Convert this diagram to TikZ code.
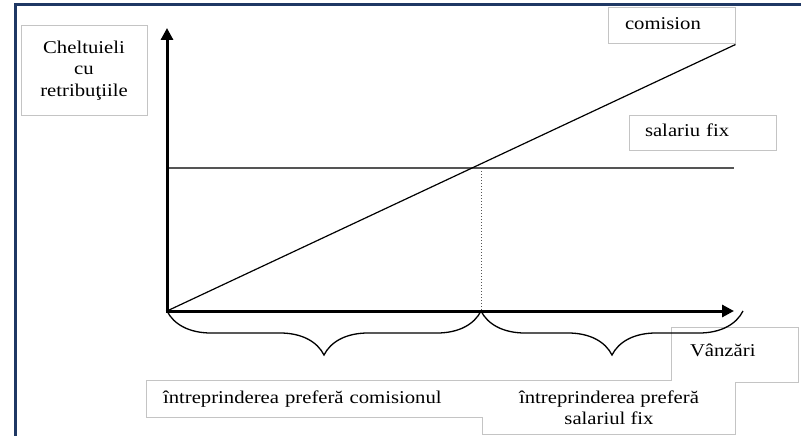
\documentclass[tikz,border=0pt]{standalone}
\usepackage{fontspec}
\setmainfont{Liberation Serif}[FakeStretch=1.15]
\usetikzlibrary{arrows.meta,decorations.pathreplacing}
\definecolor{framec}{HTML}{1F3864}
\definecolor{boxline}{HTML}{C4C4C4}
\definecolor{salc}{HTML}{555555}
\tikzset{
  lfont/.style={font=\fontsize{18}{21.5}\selectfont},
  lbox/.style={lfont, draw=boxline, line width=1pt, fill=white, inner ysep=0pt,
    text height=12pt, text depth=4pt},
  mbox/.style={lfont, draw=boxline, line width=1pt, fill=white, inner ysep=0pt},
  tbox/.style={lfont, draw=none, fill=white, inner ysep=0pt,
    text height=12pt, text depth=4pt},
  mtbox/.style={lfont, draw=none, fill=white, inner ysep=0pt},
  axis/.style={line width=3pt, -{Triangle[length=12pt,width=12pt]}},
  thinline/.style={line width=1.2pt, black},
  salline/.style={line width=2pt, salc},
  dotline/.style={line width=1pt, dotted, salc},
  bracestyle/.style={line width=1.3pt, decorate,
    decoration={brace, mirror, amplitude=44pt}},
}
\begin{document}
\begin{tikzpicture}[x=1pt,y=-1pt]
\useasboundingbox (0,0) rectangle (801,436);
% frame
\draw[framec, line width=2.5pt] (15.7,436) -- (15.7,4.7) -- (801,4.7);
% label boxes
\node[mbox, minimum width=126pt, minimum height=89pt, align=center] (ylab) at (84,70.5)
  {\raisebox{0pt}[0pt][0pt]{}\vspace{-6pt}Cheltuieli\\cu\\retribuţiile};
\node[lbox, minimum width=127pt, minimum height=36pt, inner xsep=17pt, text width=93pt, align=left] (com) at (671.5,26) {comision};
\node[lbox, minimum width=147pt, minimum height=35pt, inner xsep=16pt, text width=115pt, align=left] (sal) at (702.5,132.5) {salariu fix};
% bottom composite boxes
\node[tbox, minimum width=336pt, minimum height=36pt, inner xsep=16pt, text width=304pt, align=left] (pc) at (315,399) {întreprinderea preferă comisionul};
\node[mtbox, minimum width=252pt, minimum height=53pt, align=center] (ps) at (609,407.5) {întreprinderea preferă\\salariul fix};
\node[tbox, minimum width=126pt, minimum height=54pt, inner xsep=18pt, text width=90pt, align=left] (vz) at (735,355) {\raisebox{3pt}{Vânzări}};
\draw[boxline, line width=1pt] (pc.north west) -- (pc.north -| vz.west) -- (vz.north west)
  -- (vz.north east) -- (vz.south east) -- (vz.south -| ps.east) -- (ps.south east)
  -- (ps.south west) -- (ps.west |- pc.south) -- (pc.south west) -- cycle;
% coordinates
\coordinate (O) at (167,311);
\coordinate (Ytip) at (167,28);
\coordinate (Xtip) at (734,311);
\coordinate (Send) at (734,168);
\coordinate (P) at (481,168);
\coordinate (Bend) at (743,311);
% lines
\draw[salline] (O |- Send) -- (Send);
\draw[thinline] (O) -- (com.south east);
\draw[dotline] (P) -- (P |- O);
% axes
\draw[axis] (O) -- (Ytip);
\draw[axis] ([xshift=-1.5pt]O) -- (Xtip);
% braces
\draw[bracestyle] (O) -- (P |- O);
\draw[bracestyle] (P |- O) -- (Bend);
\end{tikzpicture}
\end{document}
